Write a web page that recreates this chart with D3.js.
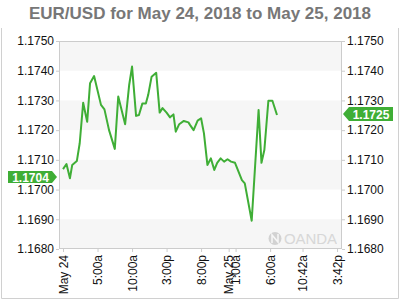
<!DOCTYPE html>
<html>
<head>
<meta charset="utf-8">
<script src="https://cdn.jsdelivr.net/npm/d3@7"></script>
<style>
  body { margin: 0; background: #fff; }
  svg text { font-family: "Liberation Sans", Arial, sans-serif; }
</style>
</head>
<body>
<svg id="chart" width="400" height="300"></svg>
<script>
// EUR/USD quotes
const times = [
  "2018-05-24T00:00", "2018-05-24T00:30", "2018-05-24T01:00", "2018-05-24T01:20",
  "2018-05-24T02:00", "2018-05-24T02:25", "2018-05-24T02:55", "2018-05-24T03:30",
  "2018-05-24T03:55", "2018-05-24T04:30", "2018-05-24T05:30", "2018-05-24T06:00",
  "2018-05-24T06:40", "2018-05-24T07:30", "2018-05-24T08:00", "2018-05-24T09:00",
  "2018-05-24T09:35", "2018-05-24T10:00", "2018-05-24T10:35", "2018-05-24T11:00",
  "2018-05-24T11:30", "2018-05-24T12:00", "2018-05-24T12:20", "2018-05-24T12:50",
  "2018-05-24T13:30", "2018-05-24T14:00", "2018-05-24T14:25", "2018-05-24T15:00",
  "2018-05-24T15:30", "2018-05-24T16:00", "2018-05-24T16:20", "2018-05-24T16:50",
  "2018-05-24T17:30", "2018-05-24T18:10", "2018-05-24T18:25", "2018-05-24T18:55",
  "2018-05-24T19:30", "2018-05-24T20:00", "2018-05-24T20:25", "2018-05-24T20:55",
  "2018-05-24T21:25", "2018-05-24T21:55", "2018-05-24T22:20", "2018-05-24T22:50",
  "2018-05-24T23:20", "2018-05-24T23:50", "2018-05-25T00:20", "2018-05-25T00:55",
  "2018-05-25T01:55", "2018-05-25T02:20", "2018-05-25T03:20", "2018-05-25T04:20",
  "2018-05-25T04:45", "2018-05-25T05:10", "2018-05-25T05:45", "2018-05-25T06:20",
  "2018-05-25T07:00"
];
const rates = [
  1.17069, 1.17086, 1.17038, 1.17083,
  1.17096, 1.17156, 1.17292, 1.17228,
  1.17358, 1.17382, 1.17285, 1.17270,
  1.17200, 1.17137, 1.17313, 1.17220,
  1.17352, 1.17414, 1.17248, 1.17251,
  1.17290, 1.17290, 1.17318, 1.17380,
  1.17393, 1.17259, 1.17274, 1.17259,
  1.17243, 1.17253, 1.17195, 1.17220,
  1.17231, 1.17226, 1.17217, 1.17200,
  1.17232, 1.17240, 1.17189, 1.17083,
  1.17105, 1.17066, 1.17090, 1.17105,
  1.17094, 1.17102, 1.17094, 1.17090,
  1.17032, 1.17021, 1.16895, 1.17268,
  1.17090, 1.17133, 1.17299, 1.17299,
  1.17251
];
const yTicks = [1.1680, 1.1690, 1.1700, 1.1710, 1.1720, 1.1730, 1.1740, 1.1750];
const xTicks = [
  "2018-05-24T00:00", "2018-05-24T05:00", "2018-05-24T10:00", "2018-05-24T15:00",
  "2018-05-24T20:00", "2018-05-25T00:00", "2018-05-25T01:00", "2018-05-25T06:00",
  "2018-05-25T10:42", "2018-05-25T15:42"
];
const openRate = 1.1704;
const lastRate = 1.1725;
const titleText = "EUR/USD for May 24, 2018 to May 25, 2018";

const parse = d3.timeParse("%Y-%m-%dT%H:%M");
const data = times.map((t, i) => ({date: parse(t), value: rates[i]}));

const W = 400, H = 300;
const plot = {left: 59, right: 342, top: 41, bottom: 249};
const green = "#3fae36";

const svg = d3.select("#chart");

// frame around the chart body
svg.append("path")
  .attr("d", `M1.5,28V298.5H398.5V28`)
  .attr("fill", "none")
  .attr("stroke", "#d0d0d0");

svg.append("text")
  .attr("x", W / 2)
  .attr("y", 18.5)
  .attr("text-anchor", "middle")
  .attr("font-size", "17px")
  .attr("font-weight", "bold")
  .attr("fill", "#777")
  .text(titleText);

const x = d3.scaleTime()
  .domain([parse("2018-05-23T23:25"), parse("2018-05-25T16:25")])
  .range([plot.left, plot.right]);

const y = d3.scaleLinear()
  .domain([1.1680, 1.1750])
  .range([plot.bottom, plot.top]);

// alternating bands
const bands = d3.pairs(yTicks).filter((p, i) => i % 2 === 0);
svg.append("g")
  .selectAll("rect")
  .data(bands)
  .enter()
  .append("rect")
  .attr("x", plot.left)
  .attr("width", plot.right - plot.left)
  .attr("y", (d) => y(d[1]))
  .attr("height", (d) => y(d[0]) - y(d[1]))
  .attr("fill", "#f6f6f6");

// watermark
const wm = svg.append("g").attr("opacity", 0.9);
wm.append("circle")
  .attr("cx", 275)
  .attr("cy", 238.5)
  .attr("r", 6.5)
  .attr("fill", "#cfcfcf");
wm.append("path")
  .attr("d", "M272,243V235L278,242V234")
  .attr("fill", "none")
  .attr("stroke", "#f6f6f6")
  .attr("stroke-width", 1.6);
wm.append("text")
  .attr("x", 284)
  .attr("y", 244)
  .attr("font-size", "15px")
  .attr("fill", "#d4d4d4")
  .attr("textLength", 53)
  .text("OANDA");

// y axes
const fmt = d3.format(".4f");
const yLeft = svg.append("g")
  .attr("transform", `translate(${plot.left},0)`)
  .call(d3.axisLeft(y).tickValues(yTicks).tickFormat(fmt).tickSize(3).tickPadding(2));
const yRight = svg.append("g")
  .attr("transform", `translate(${plot.right},0)`)
  .call(d3.axisRight(y).tickValues(yTicks).tickFormat(fmt).tickSize(3).tickPadding(2));

// x axis
const tickFmt = (d) => {
  if (d.getHours() === 0 && d.getMinutes() === 0) return d3.timeFormat("%b %-d")(d);
  const h = d.getHours() % 12 || 12;
  return `${h}:${d3.timeFormat("%M")(d)}${d.getHours() < 12 ? "a" : "p"}`;
};
const xAxis = svg.append("g")
  .attr("transform", `translate(0,${plot.bottom})`)
  .call(d3.axisBottom(x).tickValues(xTicks.map(parse)).tickFormat(tickFmt).tickSize(3));
xAxis.selectAll("text")
  .attr("transform", "rotate(-90)")
  .attr("text-anchor", "end")
  .attr("x", -6)
  .attr("y", 0)
  .attr("dy", "0.35em");

[yLeft, yRight, xAxis].forEach((g) => {
  g.select(".domain").remove();
  g.selectAll("line").attr("stroke", "#ccc");
  g.selectAll("text").attr("font-size", "12px").attr("fill", "#111").attr("font-family", "Liberation Sans, Arial, sans-serif");
});

// plot border
svg.append("rect")
  .attr("x", plot.left + 0.5)
  .attr("y", plot.top + 0.5)
  .attr("width", plot.right - plot.left - 1)
  .attr("height", plot.bottom - plot.top - 1)
  .attr("fill", "none")
  .attr("stroke", "#ccc");

// price line
svg.append("path")
  .datum(data)
  .attr("fill", "none")
  .attr("stroke", green)
  .attr("stroke-width", 2)
  .attr("stroke-linejoin", "round")
  .attr("d", d3.line().x((d) => x(d.date)).y((d) => y(d.value)));

// price flags
const flag = (value, side) => {
  const cy = Math.round(y(value)) - 1;
  const g = svg.append("g");
  if (side === "left") {
    g.append("path")
      .attr("d", `M8,${cy - 6}H52L57,${cy}L52,${cy + 6}H8Z`)
      .attr("fill", green);
    g.append("text").attr("x", 30.5).attr("y", cy + 4.5);
  } else {
    g.append("path")
      .attr("d", `M343,${cy}L349,${cy - 7}H393V${cy + 7}H349Z`)
      .attr("fill", green);
    g.append("text").attr("x", 371).attr("y", cy + 4.5);
  }
  g.select("text")
    .attr("text-anchor", "middle")
    .attr("font-size", "12px")
    .attr("font-weight", "bold")
    .attr("fill", "#fff")
    .text(fmt(value));
};
flag(openRate, "left");
flag(lastRate, "right");
</script>
</body>
</html>
